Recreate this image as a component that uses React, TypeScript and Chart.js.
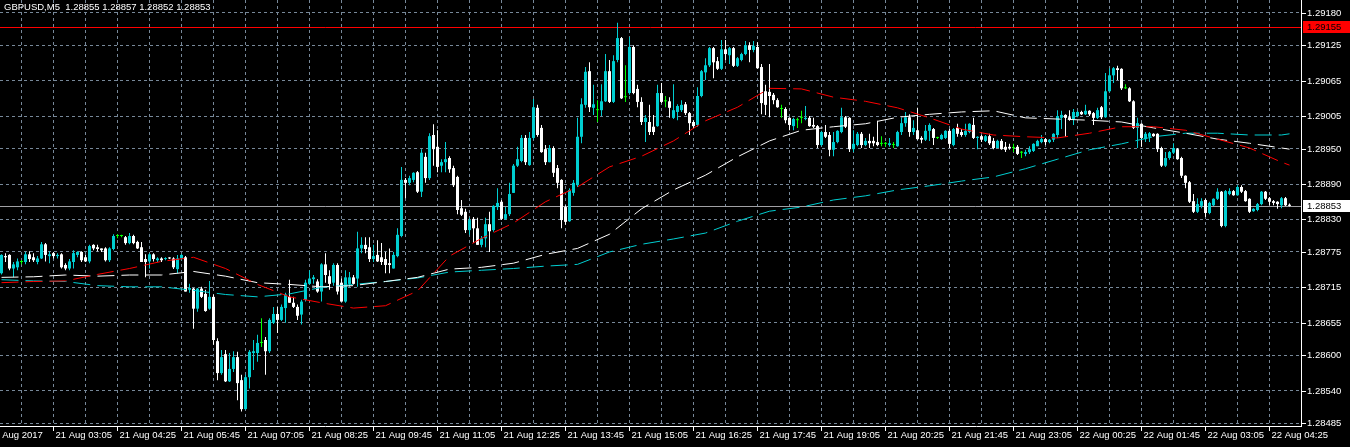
import React, { useEffect, useRef } from 'react';
import { Chart, registerables } from 'chart.js';

Chart.register(...registerables);

// ---------- data ----------
const SYMBOL_TITLE = 'GBPUSD,M5';
const LAST_OHLC = [1.28855, 1.28857, 1.28852, 1.28853];

const OPEN = [
  1.28739, 1.28768, 1.28770, 1.28747, 1.28749, 1.28758, 1.28758, 1.28771, 1.28766, 1.28758,
  1.28764, 1.28788, 1.28768, 1.28773, 1.28768, 1.28771, 1.28753, 1.28747, 1.28758, 1.28770,
  1.28775, 1.28766, 1.28759, 1.28787, 1.28783, 1.28781, 1.28781, 1.28761, 1.28780, 1.28802,
  1.28802, 1.28800, 1.28790, 1.28802, 1.28792, 1.28783, 1.28763, 1.28759, 1.28771, 1.28761,
  1.28764, 1.28763, 1.28765, 1.28764, 1.28746, 1.28764, 1.28766, 1.28711, 1.28713, 1.28679,
  1.28713, 1.28704, 1.28679, 1.28699, 1.28624, 1.28570, 1.28602, 1.28556, 1.28577, 1.28597,
  1.28558, 1.28509, 1.28563, 1.28604, 1.28604, 1.28621, 1.28626, 1.28607, 1.28655, 1.28670,
  1.28660, 1.28680, 1.28699, 1.28689, 1.28682, 1.28669, 1.28694, 1.28721, 1.28729, 1.28725,
  1.28708, 1.28754, 1.28734, 1.28723, 1.28753, 1.28723, 1.28691, 1.28721, 1.28732, 1.28730,
  1.28781, 1.28787, 1.28783, 1.28763, 1.28770, 1.28766, 1.28763, 1.28756, 1.28747, 1.28768,
  1.28802, 1.28897, 1.28892, 1.28897, 1.28910, 1.28877, 1.28936, 1.28900, 1.28973, 1.28953,
  1.28921, 1.28927, 1.28934, 1.28917, 1.28902, 1.28849, 1.28843, 1.28812, 1.28831, 1.28815,
  1.28787, 1.28798, 1.28822, 1.28812, 1.28851, 1.28860, 1.28831, 1.28839, 1.28875, 1.28921,
  1.28929, 1.28968, 1.28922, 1.28968, 1.29019, 1.28985, 1.28949, 1.28927, 1.28951, 1.28917,
  1.28897, 1.28851, 1.28827, 1.28875, 1.28888, 1.28970, 1.29024, 1.29081, 1.29019, 1.29015,
  1.29015, 1.29030, 1.29081, 1.29029, 1.29100, 1.29137, 1.29037, 1.29044, 1.29122, 1.29051,
  1.29029, 1.28995, 1.28995, 1.28987, 1.28988, 1.29044, 1.29030, 1.29030, 1.29002, 1.29012,
  1.29015, 1.29025, 1.29010, 1.28995, 1.28990, 1.29039, 1.29079, 1.29091, 1.29120, 1.29098,
  1.29085, 1.29118, 1.29108, 1.29120, 1.29090, 1.29100, 1.29110, 1.29125, 1.29117, 1.29122,
  1.29088, 1.29047, 1.29046, 1.29041, 1.29032, 1.29017, 1.29017, 1.29002, 1.28988, 1.28998,
  1.29002, 1.29000, 1.29002, 1.28990, 1.28988, 1.28956, 1.28978, 1.28973, 1.28948, 1.28961,
  1.28978, 1.29003, 1.29002, 1.28949, 1.28956, 1.28975, 1.28956, 1.28963, 1.28963, 1.28961,
  1.28958, 1.28958, 1.28956, 1.28956, 1.28954, 1.28978, 1.28993, 1.29003, 1.28978, 1.28981,
  1.28968, 1.28965, 1.28980, 1.28983, 1.28968, 1.28966, 1.28968, 1.28980, 1.28956, 1.28985,
  1.28978, 1.28973, 1.28978, 1.28990, 1.28968, 1.28971, 1.28963, 1.28971, 1.28963, 1.28951,
  1.28963, 1.28953, 1.28953, 1.28951, 1.28953, 1.28943, 1.28941, 1.28944, 1.28946, 1.28954,
  1.28961, 1.28966, 1.28961, 1.28965, 1.28973, 1.29002, 1.29007, 1.29003, 1.29000, 1.29005,
  1.29012, 1.29008, 1.29014, 1.29010, 1.29002, 1.29020, 1.29003, 1.29047, 1.29074, 1.29086,
  1.29085, 1.29052, 1.29052, 1.29030, 1.28985, 1.28992, 1.28966, 1.28970, 1.28975, 1.28975,
  1.28951, 1.28921, 1.28934, 1.28943, 1.28949, 1.28934, 1.28904, 1.28893, 1.28861, 1.28843,
  1.28853, 1.28863, 1.28841, 1.28854, 1.28865, 1.28877, 1.28819, 1.28873, 1.28878, 1.28871,
  1.28885, 1.28878, 1.28865, 1.28844, 1.28846, 1.28856, 1.28877, 1.28866, 1.28861, 1.28860,
  1.28854, 1.28866, 1.28855,
];

const HIGH = [
  1.28771, 1.28773, 1.28771, 1.28758, 1.28764, 1.28761, 1.28775, 1.28776, 1.28773, 1.28768,
  1.28792, 1.28790, 1.28776, 1.28775, 1.28773, 1.28773, 1.28756, 1.28763, 1.28778, 1.28776,
  1.28776, 1.28770, 1.28787, 1.28788, 1.28787, 1.28781, 1.28783, 1.28783, 1.28805, 1.28805,
  1.28804, 1.28802, 1.28807, 1.28804, 1.28794, 1.28792, 1.28771, 1.28773, 1.28773, 1.28766,
  1.28766, 1.28766, 1.28766, 1.28766, 1.28770, 1.28771, 1.28768, 1.28721, 1.28714, 1.28714,
  1.28716, 1.28711, 1.28726, 1.28703, 1.28629, 1.28609, 1.28609, 1.28604, 1.28607, 1.28606,
  1.28567, 1.28567, 1.28609, 1.28626, 1.28635, 1.28663, 1.28631, 1.28663, 1.28682, 1.28682,
  1.28686, 1.28706, 1.28728, 1.28699, 1.28686, 1.28694, 1.28728, 1.28744, 1.28736, 1.28729,
  1.28756, 1.28773, 1.28744, 1.28756, 1.28756, 1.28730, 1.28744, 1.28741, 1.28736, 1.28809,
  1.28800, 1.28800, 1.28800, 1.28787, 1.28795, 1.28790, 1.28775, 1.28781, 1.28775, 1.28815,
  1.28919, 1.28900, 1.28904, 1.28910, 1.28912, 1.28949, 1.28943, 1.28976, 1.28991, 1.28981,
  1.28932, 1.28961, 1.28937, 1.28921, 1.28904, 1.28863, 1.28848, 1.28833, 1.28834, 1.28833,
  1.28802, 1.28833, 1.28843, 1.28854, 1.28883, 1.28863, 1.28851, 1.28892, 1.28924, 1.28953,
  1.28973, 1.28973, 1.28978, 1.29034, 1.29024, 1.28990, 1.28956, 1.28956, 1.28954, 1.28922,
  1.28898, 1.28854, 1.28883, 1.28897, 1.29002, 1.29035, 1.29088, 1.29096, 1.29058, 1.29032,
  1.29059, 1.29110, 1.29100, 1.29108, 1.29163, 1.29139, 1.29091, 1.29139, 1.29125, 1.29058,
  1.29037, 1.29007, 1.29024, 1.29007, 1.29058, 1.29061, 1.29039, 1.29037, 1.29059, 1.29025,
  1.29032, 1.29029, 1.29012, 1.28998, 1.29054, 1.29083, 1.29103, 1.29122, 1.29122, 1.29105,
  1.29134, 1.29134, 1.29122, 1.29122, 1.29105, 1.29112, 1.29132, 1.29130, 1.29132, 1.29130,
  1.29093, 1.29058, 1.29093, 1.29044, 1.29035, 1.29024, 1.29020, 1.29003, 1.29002, 1.29002,
  1.29014, 1.29022, 1.29005, 1.29002, 1.28990, 1.28980, 1.28990, 1.28978, 1.28978, 1.28981,
  1.29019, 1.29005, 1.29003, 1.28981, 1.28978, 1.28978, 1.28968, 1.28975, 1.28970, 1.28997,
  1.28971, 1.28961, 1.28968, 1.28961, 1.28980, 1.29002, 1.29012, 1.29008, 1.28998, 1.29019,
  1.28971, 1.28990, 1.28993, 1.28985, 1.28970, 1.28975, 1.28981, 1.28983, 1.28985, 1.28992,
  1.28983, 1.28992, 1.28993, 1.29002, 1.28971, 1.28973, 1.28973, 1.28975, 1.28968, 1.28965,
  1.28966, 1.28961, 1.28958, 1.28958, 1.28956, 1.28946, 1.28948, 1.28954, 1.28959, 1.28965,
  1.28973, 1.28968, 1.28966, 1.28976, 1.29015, 1.29014, 1.29008, 1.29015, 1.29017, 1.29014,
  1.29014, 1.29024, 1.29015, 1.29012, 1.29019, 1.29022, 1.29078, 1.29086, 1.29088, 1.29090,
  1.29086, 1.29059, 1.29054, 1.29032, 1.29002, 1.28993, 1.28978, 1.28978, 1.28976, 1.28976,
  1.28953, 1.28944, 1.28946, 1.28959, 1.28951, 1.28936, 1.28905, 1.28895, 1.28873, 1.28866,
  1.28866, 1.28865, 1.28860, 1.28866, 1.28883, 1.28878, 1.28880, 1.28883, 1.28880, 1.28888,
  1.28888, 1.28880, 1.28866, 1.28849, 1.28858, 1.28878, 1.28878, 1.28868, 1.28863, 1.28861,
  1.28868, 1.28868, 1.28857,
];

const LOW = [
  1.28737, 1.28758, 1.28744, 1.28732, 1.28744, 1.28754, 1.28754, 1.28758, 1.28758, 1.28754,
  1.28763, 1.28759, 1.28756, 1.28764, 1.28764, 1.28747, 1.28744, 1.28744, 1.28747, 1.28766,
  1.28758, 1.28758, 1.28756, 1.28778, 1.28776, 1.28775, 1.28759, 1.28758, 1.28778, 1.28798,
  1.28800, 1.28787, 1.28788, 1.28788, 1.28780, 1.28758, 1.28732, 1.28747, 1.28759, 1.28758,
  1.28758, 1.28761, 1.28763, 1.28746, 1.28739, 1.28761, 1.28708, 1.28706, 1.28645, 1.28674,
  1.28697, 1.28674, 1.28677, 1.28618, 1.28558, 1.28567, 1.28555, 1.28555, 1.28572, 1.28524,
  1.28505, 1.28508, 1.28544, 1.28575, 1.28589, 1.28614, 1.28567, 1.28604, 1.28653, 1.28638,
  1.28658, 1.28655, 1.28689, 1.28680, 1.28660, 1.28652, 1.28691, 1.28720, 1.28721, 1.28706,
  1.28691, 1.28723, 1.28711, 1.28718, 1.28703, 1.28691, 1.28689, 1.28716, 1.28720, 1.28716,
  1.28773, 1.28773, 1.28758, 1.28758, 1.28758, 1.28753, 1.28739, 1.28739, 1.28747, 1.28766,
  1.28800, 1.28866, 1.28888, 1.28893, 1.28875, 1.28868, 1.28892, 1.28897, 1.28921, 1.28910,
  1.28910, 1.28910, 1.28909, 1.28885, 1.28839, 1.28836, 1.28807, 1.28804, 1.28790, 1.28787,
  1.28783, 1.28783, 1.28775, 1.28809, 1.28846, 1.28829, 1.28829, 1.28836, 1.28875, 1.28919,
  1.28927, 1.28922, 1.28921, 1.28965, 1.28970, 1.28943, 1.28922, 1.28927, 1.28902, 1.28883,
  1.28815, 1.28821, 1.28826, 1.28870, 1.28885, 1.28959, 1.29019, 1.29012, 1.29007, 1.28995,
  1.29005, 1.29029, 1.29027, 1.29027, 1.29096, 1.29034, 1.29029, 1.29041, 1.29042, 1.29020,
  1.28990, 1.28961, 1.28973, 1.28973, 1.28987, 1.29027, 1.29020, 1.29002, 1.29000, 1.28998,
  1.29012, 1.29007, 1.28973, 1.28985, 1.28987, 1.29037, 1.29066, 1.29088, 1.29069, 1.29083,
  1.29083, 1.29100, 1.29093, 1.29088, 1.29088, 1.29098, 1.29108, 1.29096, 1.29113, 1.29085,
  1.29008, 1.29007, 1.29003, 1.29025, 1.29019, 1.29002, 1.28993, 1.28981, 1.28981, 1.28985,
  1.28993, 1.28998, 1.28987, 1.28985, 1.28951, 1.28954, 1.28968, 1.28937, 1.28937, 1.28959,
  1.28976, 1.28985, 1.28944, 1.28944, 1.28954, 1.28951, 1.28954, 1.28951, 1.28954, 1.28954,
  1.28954, 1.28953, 1.28953, 1.28951, 1.28953, 1.28973, 1.28987, 1.28970, 1.28973, 1.28965,
  1.28959, 1.28963, 1.28963, 1.28956, 1.28966, 1.28965, 1.28966, 1.28951, 1.28954, 1.28970,
  1.28970, 1.28970, 1.28976, 1.28966, 1.28949, 1.28961, 1.28961, 1.28956, 1.28949, 1.28951,
  1.28948, 1.28944, 1.28948, 1.28944, 1.28939, 1.28934, 1.28937, 1.28941, 1.28944, 1.28954,
  1.28959, 1.28956, 1.28959, 1.28961, 1.28968, 1.28983, 1.28970, 1.28997, 1.28990, 1.29003,
  1.29007, 1.29007, 1.29005, 1.28990, 1.29000, 1.29000, 1.29002, 1.29046, 1.29061, 1.29066,
  1.29049, 1.29051, 1.29029, 1.28983, 1.28951, 1.28953, 1.28961, 1.28961, 1.28970, 1.28944,
  1.28919, 1.28919, 1.28931, 1.28941, 1.28931, 1.28900, 1.28883, 1.28858, 1.28841, 1.28841,
  1.28849, 1.28834, 1.28839, 1.28853, 1.28863, 1.28817, 1.28817, 1.28871, 1.28870, 1.28870,
  1.28875, 1.28860, 1.28841, 1.28843, 1.28844, 1.28854, 1.28863, 1.28854, 1.28854, 1.28848,
  1.28849, 1.28853, 1.28852,
];

const CLOSE = [
  1.28770, 1.28766, 1.28747, 1.28754, 1.28759, 1.28758, 1.28771, 1.28763, 1.28761, 1.28764,
  1.28788, 1.28770, 1.28771, 1.28768, 1.28770, 1.28749, 1.28747, 1.28759, 1.28773, 1.28775,
  1.28761, 1.28759, 1.28785, 1.28781, 1.28780, 1.28778, 1.28761, 1.28781, 1.28802, 1.28802,
  1.28802, 1.28790, 1.28802, 1.28790, 1.28781, 1.28758, 1.28758, 1.28771, 1.28763, 1.28764,
  1.28761, 1.28764, 1.28764, 1.28749, 1.28764, 1.28770, 1.28708, 1.28714, 1.28679, 1.28713,
  1.28699, 1.28675, 1.28699, 1.28626, 1.28570, 1.28597, 1.28556, 1.28577, 1.28597, 1.28553,
  1.28509, 1.28563, 1.28606, 1.28607, 1.28621, 1.28621, 1.28607, 1.28660, 1.28670, 1.28660,
  1.28682, 1.28703, 1.28689, 1.28682, 1.28667, 1.28691, 1.28723, 1.28730, 1.28732, 1.28708,
  1.28754, 1.28736, 1.28721, 1.28753, 1.28708, 1.28691, 1.28732, 1.28732, 1.28721, 1.28781,
  1.28787, 1.28780, 1.28763, 1.28768, 1.28759, 1.28758, 1.28753, 1.28753, 1.28770, 1.28804,
  1.28897, 1.28892, 1.28900, 1.28909, 1.28877, 1.28943, 1.28900, 1.28971, 1.28949, 1.28919,
  1.28927, 1.28932, 1.28915, 1.28888, 1.28846, 1.28838, 1.28812, 1.28829, 1.28815, 1.28787,
  1.28798, 1.28822, 1.28810, 1.28853, 1.28858, 1.28831, 1.28839, 1.28873, 1.28921, 1.28932,
  1.28968, 1.28927, 1.28968, 1.29020, 1.28973, 1.28944, 1.28927, 1.28951, 1.28909, 1.28892,
  1.28829, 1.28826, 1.28880, 1.28892, 1.28970, 1.29025, 1.29080, 1.29020, 1.29025, 1.29015,
  1.29030, 1.29081, 1.29029, 1.29098, 1.29137, 1.29035, 1.29037, 1.29122, 1.29044, 1.29029,
  1.28995, 1.29002, 1.28978, 1.28978, 1.29044, 1.29029, 1.29030, 1.29019, 1.29015, 1.29022,
  1.29024, 1.29010, 1.28993, 1.28988, 1.29039, 1.29081, 1.29091, 1.29120, 1.29096, 1.29085,
  1.29118, 1.29110, 1.29120, 1.29090, 1.29103, 1.29110, 1.29125, 1.29117, 1.29124, 1.29086,
  1.29027, 1.29024, 1.29039, 1.29032, 1.29020, 1.29017, 1.28998, 1.28990, 1.29000, 1.28998,
  1.29002, 1.29002, 1.28988, 1.28987, 1.28956, 1.28978, 1.28970, 1.28948, 1.28961, 1.28980,
  1.29003, 1.28987, 1.28949, 1.28958, 1.28975, 1.28956, 1.28963, 1.28959, 1.28959, 1.28956,
  1.28958, 1.28958, 1.28959, 1.28956, 1.28978, 1.28993, 1.29003, 1.28978, 1.28985, 1.28966,
  1.28965, 1.28980, 1.28990, 1.28968, 1.28968, 1.28973, 1.28980, 1.28958, 1.28983, 1.28975,
  1.28973, 1.28980, 1.28992, 1.28968, 1.28970, 1.28965, 1.28971, 1.28959, 1.28951, 1.28963,
  1.28949, 1.28948, 1.28951, 1.28951, 1.28941, 1.28943, 1.28944, 1.28949, 1.28958, 1.28963,
  1.28966, 1.28961, 1.28965, 1.28975, 1.29005, 1.29007, 1.29002, 1.29000, 1.29012, 1.29012,
  1.29008, 1.29014, 1.29008, 1.29002, 1.29015, 1.29003, 1.29047, 1.29074, 1.29086, 1.29083,
  1.29052, 1.29052, 1.29030, 1.28985, 1.28993, 1.28968, 1.28975, 1.28976, 1.28971, 1.28949,
  1.28921, 1.28934, 1.28944, 1.28951, 1.28932, 1.28904, 1.28892, 1.28860, 1.28843, 1.28856,
  1.28861, 1.28841, 1.28858, 1.28865, 1.28877, 1.28819, 1.28878, 1.28878, 1.28871, 1.28885,
  1.28877, 1.28861, 1.28843, 1.28848, 1.28856, 1.28877, 1.28865, 1.28860, 1.28858, 1.28856,
  1.28866, 1.28854, 1.28853,
];

// moving averages, read at these bar indices
const MA_BARS = [
  0, 8, 16, 24, 32, 40, 48, 56, 64, 72, 80, 88, 96, 104, 112, 120, 128, 136, 144, 152, 160,
  168, 176, 184, 192, 200, 208, 216, 224, 232, 240, 248, 256, 264, 272, 280, 288, 296, 304,
  312, 320, 322,
];
const MA_RED = [
  1.28723, 1.28725, 1.28726, 1.28737, 1.28747, 1.28759, 1.28766, 1.28747, 1.28720, 1.28699,
  1.28689, 1.28680, 1.28684, 1.28709, 1.28768, 1.28798, 1.28824, 1.28860, 1.28885, 1.28919,
  1.28937, 1.28963, 1.28997, 1.29020, 1.29052, 1.29051, 1.29037, 1.29030, 1.29019, 1.29002,
  1.28983, 1.28973, 1.28970, 1.28968, 1.28976, 1.28987, 1.28987, 1.28981, 1.28966, 1.28951,
  1.28927, 1.28922,
];
const MA_WHITE = [
  1.28732, 1.28733, 1.28736, 1.28734, 1.28736, 1.28736, 1.28742, 1.28734, 1.28723, 1.28720,
  1.28716, 1.28718, 1.28725, 1.28732, 1.28746, 1.28749, 1.28756, 1.28771, 1.28781, 1.28805,
  1.28848, 1.28880, 1.28905, 1.28936, 1.28963, 1.28981, 1.28987, 1.28992, 1.29003, 1.29008,
  1.29012, 1.29014, 1.29002, 1.29000, 1.28998, 1.28995, 1.28985, 1.28976, 1.28966, 1.28959,
  1.28951, 1.28949,
];
const MA_CYAN = [
  1.28728, 1.28726, 1.28725, 1.28718, 1.28716, 1.28716, 1.28710, 1.28703, 1.28699, 1.28704,
  1.28715, 1.28720, 1.28725, 1.28731, 1.28741, 1.28744, 1.28747, 1.28751, 1.28754, 1.28775,
  1.28788, 1.28797, 1.28807, 1.28827, 1.28844, 1.28851, 1.28863, 1.28870, 1.28880, 1.28887,
  1.28895, 1.28902, 1.28916, 1.28932, 1.28948, 1.28958, 1.28970, 1.28976, 1.28976, 1.28973,
  1.28973, 1.28975,
];

const PRICE_TICKS = [
  1.2918, 1.29125, 1.29065, 1.29005, 1.2895, 1.2889, 1.2883, 1.28775, 1.28715, 1.28655,
  1.286, 1.2854, 1.28485,
];
const FIRST_DATE_LABEL = '21 Aug 2017';
const TIME_LABEL_BARS = [13, 29, 45, 61, 77, 93, 109, 125, 141, 157, 173, 189, 205, 221, 237, 253, 269, 285, 301, 317];
const TIME_LABELS = [
  '21 Aug 03:05', '21 Aug 04:25', '21 Aug 05:45', '21 Aug 07:05', '21 Aug 08:25', '21 Aug 09:45',
  '21 Aug 11:05', '21 Aug 12:25', '21 Aug 13:45', '21 Aug 15:05', '21 Aug 16:25', '21 Aug 17:45',
  '21 Aug 19:05', '21 Aug 20:25', '21 Aug 21:45', '21 Aug 23:05', '22 Aug 00:25', '22 Aug 01:45',
  '22 Aug 03:05', '22 Aug 04:25',
];

const BID_PRICE = 1.28853;
const LEVEL_PRICE = 1.29155;

// ---------- style ----------
const BG = '#000000';
const GRID_COLOR = '#778899';
const AXIS_COLOR = '#ffffff';
const TEXT_COLOR = '#ffffff';
const BULL = '#00CED1';
const BEAR = '#ffffff';
const DOJI = '#00ff00';
const LEVEL_COLOR = '#ff0000';
const BID_LINE_COLOR = '#a0a0a4';
const FONT = '9.5px "Liberation Sans", Arial, sans-serif';

const X_MIN = -0.375;
const X_MAX = 324.875;
const Y_MIN = 1.284804;
const Y_MAX = 1.292015;

const decorPlugin = {
  id: 'mt4Decor',
  beforeDraw(chart: any) {
    const { ctx, width, height } = chart;
    ctx.save();
    ctx.fillStyle = BG;
    ctx.fillRect(0, 0, width, height);
    ctx.restore();
  },
  beforeDatasetsDraw(chart: any) {
    const { ctx, chartArea: a, scales } = chart;
    const y = scales.y;
    ctx.save();
    ctx.beginPath();
    ctx.rect(a.left, a.top, a.right - a.left, a.bottom - a.top);
    ctx.clip();
    ctx.lineWidth = 1;
    ctx.setLineDash([]);
    const lines: [number, string][] = [
      [LEVEL_PRICE, LEVEL_COLOR],
      [BID_PRICE, BID_LINE_COLOR],
    ];
    for (const [price, color] of lines) {
      const py = Math.round(y.getPixelForValue(price)) + 0.5;
      ctx.strokeStyle = color;
      ctx.beginPath();
      ctx.moveTo(a.left, py);
      ctx.lineTo(a.right, py);
      ctx.stroke();
    }
    ctx.restore();
  },
  afterDraw(chart: any) {
    const { ctx, chartArea: a, scales, width } = chart;
    const x = scales.x;
    const y = scales.y;
    ctx.save();
    ctx.font = FONT;
    ctx.textBaseline = 'middle';
    ctx.textAlign = 'left';
    ctx.lineWidth = 1;
    ctx.strokeStyle = AXIS_COLOR;
    ctx.fillStyle = TEXT_COLOR;

    PRICE_TICKS.forEach((p) => {
      const py = Math.round(y.getPixelForValue(p)) + 0.5;
      ctx.beginPath();
      ctx.moveTo(a.right + 1, py);
      ctx.lineTo(a.right + 5, py);
      ctx.stroke();
      ctx.fillText(p.toFixed(5), a.right + 6, py);
    });

    const tag = (price: number, bg: string, fg: string) => {
      const py = Math.round(y.getPixelForValue(price));
      ctx.fillStyle = bg;
      ctx.fillRect(a.right + 2, py - 6, width - a.right - 2, 12);
      ctx.fillStyle = fg;
      ctx.fillText(price.toFixed(5), a.right + 6, py + 0.5);
    };
    tag(LEVEL_PRICE, LEVEL_COLOR, '#000000');
    tag(BID_PRICE, '#ffffff', '#000000');

    ctx.fillStyle = TEXT_COLOR;
    TIME_LABEL_BARS.forEach((b, k) => {
      const px = Math.round(x.getPixelForValue(b) - 0.5) + 0.5;
      ctx.beginPath();
      ctx.moveTo(px, a.bottom + 1);
      ctx.lineTo(px, a.bottom + 5);
      ctx.stroke();
      ctx.fillText(TIME_LABELS[k], px + 2, a.bottom + 9);
    });
    ctx.fillText(FIRST_DATE_LABEL, a.left - 11, a.bottom + 9);

    const title = `${SYMBOL_TITLE}  ${LAST_OHLC.map((v) => v.toFixed(5)).join(' ')}`;
    ctx.fillText(title, 4, 7);
    ctx.restore();
  },
};

export default function App() {
  const ref = useRef<HTMLCanvasElement>(null);

  useEffect(() => {
    const canvas = ref.current;
    if (!canvas) return;
    const colors = OPEN.map((o, i) => (CLOSE[i] > o ? BULL : CLOSE[i] < o ? BEAR : DOJI));
    const maLine = (vals: number[], color: string, label: string) => ({
      type: 'line' as const,
      label,
      data: MA_BARS.map((b, k) => ({ x: b, y: vals[k] })),
      borderColor: color,
      borderWidth: 1,
      borderDash: [17, 7],
      pointRadius: 0,
      tension: 0,
      order: 0,
    });
    const gridBars: number[] = [];
    for (let b = 5; b < X_MAX; b += 8) gridBars.push(b);

    const chart = new Chart(canvas, {
      type: 'bar',
      data: {
        datasets: [
          maLine(MA_RED, '#ff0000', 'MA red'),
          maLine(MA_WHITE, '#ffffff', 'MA white'),
          maLine(MA_CYAN, '#00CED1', 'MA cyan'),
          {
            type: 'bar',
            label: 'body',
            data: OPEN.map((o, i) => ({ x: i, y: [o, CLOSE[i]] })),
            backgroundColor: colors,
            barThickness: 3,
            minBarLength: 1,
            grouped: false,
            inflateAmount: 0,
            order: 1,
          },
          {
            type: 'bar',
            label: 'wick',
            data: LOW.map((l, i) => ({ x: i, y: [l, HIGH[i]] })),
            backgroundColor: colors,
            barThickness: 1,
            minBarLength: 1,
            grouped: false,
            inflateAmount: 0,
            order: 2,
          },
        ] as any,
      },
      options: {
        animation: false,
        responsive: false,
        devicePixelRatio: 1,
        events: [],
        layout: { padding: 0 },
        plugins: {
          legend: { display: false },
          tooltip: { enabled: false },
          title: { display: false },
        },
        scales: {
          x: {
            type: 'linear',
            min: X_MIN,
            max: X_MAX,
            offset: false,
            bounds: 'data',
            grid: { color: GRID_COLOR, lineWidth: 1, drawTicks: false, offset: false },
            border: { display: true, color: AXIS_COLOR, width: 1, dash: [3, 3] },
            ticks: { display: false },
            afterBuildTicks: (s: any) => {
              s.ticks = gridBars.map((v) => ({ value: v }));
            },
            afterFit: (s: any) => {
              s.height = 21;
            },
          },
          y: {
            type: 'linear',
            position: 'right',
            min: Y_MIN,
            max: Y_MAX,
            beginAtZero: false,
            bounds: 'data',
            grid: { color: GRID_COLOR, lineWidth: 1, drawTicks: false },
            border: { display: true, color: AXIS_COLOR, width: 1, dash: [3, 3] },
            ticks: { display: false },
            afterBuildTicks: (s: any) => {
              s.ticks = PRICE_TICKS.map((v) => ({ value: v }));
            },
            afterFit: (s: any) => {
              s.width = 49;
            },
          },
        },
      } as any,
      plugins: [decorPlugin],
    });
    return () => chart.destroy();
  }, []);

  return (
    <div style={{ position: 'fixed', left: 0, top: 0, width: 1350, height: 447, background: BG }}>
      <canvas ref={ref} width={1350} height={447} style={{ display: 'block', width: 1350, height: 447 }} />
    </div>
  );
}
